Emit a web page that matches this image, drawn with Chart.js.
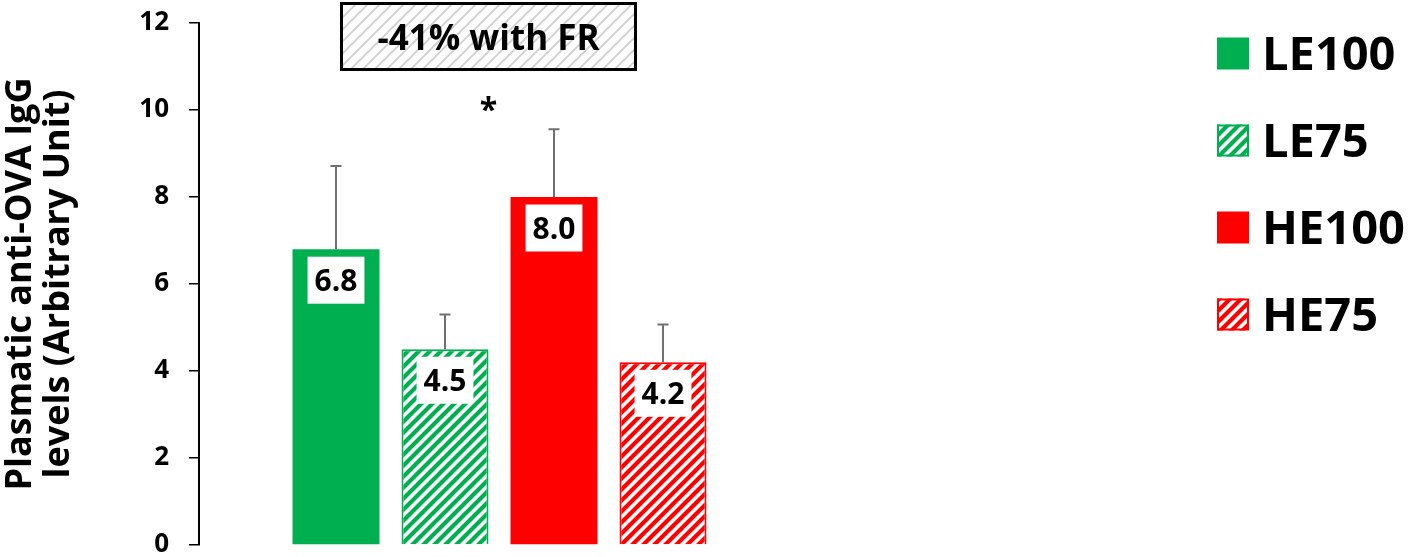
<!DOCTYPE html>
<html>
<head>
<meta charset="utf-8">
<script src="https://cdn.jsdelivr.net/npm/chart.js@4/dist/chart.umd.min.js"></script>
<style>
  html, body { margin: 0; padding: 0; background: #ffffff; }
  canvas { display: block; }
</style>
</head>
<body>
<canvas id="chart" width="1408" height="557"></canvas>
<script>
// Group names, mean IgG levels and upper error (SEM)
const groups = ['LE100', 'LE75', 'HE100', 'HE75'];
const means = [6.8, 4.5, 8.0, 4.2];
const errors = [1.91, 0.80, 1.56, 0.87];
const hatched = [false, true, false, true];
const groupColors = ['#00B050', '#00B050', '#FF0000', '#FF0000'];
const yTicks = [0, 2, 4, 6, 8, 10, 12];
const yTitle = ['Plasmatic anti-OVA IgG', 'levels (Arbitrary Unit)'];
const noteText = '-41% with FR';
const starText = '*';

const FONT = '"Open Sans", "Noto Sans", "DejaVu Sans", sans-serif';

// Diagonal "/" stripe fill
function stripes(color, bg, size, width) {
  const c = document.createElement('canvas');
  c.width = c.height = size;
  const g = c.getContext('2d');
  g.fillStyle = bg;
  g.fillRect(0, 0, size, size);
  g.strokeStyle = color;
  g.lineWidth = width;
  g.beginPath();
  g.moveTo(-2, 2); g.lineTo(2, -2);
  g.moveTo(-2, size + 2); g.lineTo(size + 2, -2);
  g.moveTo(size - 2, size + 2); g.lineTo(size + 2, size - 2);
  g.stroke();
  return g.createPattern(c, 'repeat');
}

const ctx0 = document.getElementById('chart').getContext('2d');
const fills = groups.map((g, i) => hatched[i] ? stripes(groupColors[i], '#ffffff', 11, 4.2) : groupColors[i]);
const noteFill = stripes('#d0d0d0', '#ffffff', 12, 1.8);

// Error bars, value boxes, legend and the annotation
const decor = {
  id: 'decor',
  afterDatasetsDraw(chart) {
    const ctx = chart.ctx;
    const y = chart.scales.y;
    chart.data.datasets.forEach((ds, i) => {
      const bar = chart.getDatasetMeta(i).data[0];
      const top = y.getPixelForValue(means[i]);
      const errTop = y.getPixelForValue(means[i] + errors[i]);
      ctx.save();
      ctx.strokeStyle = '#707070';
      ctx.lineWidth = 2;
      ctx.beginPath();
      ctx.moveTo(bar.x, top);
      ctx.lineTo(bar.x, errTop);
      ctx.moveTo(bar.x - 5.5, errTop);
      ctx.lineTo(bar.x + 5.5, errTop);
      ctx.stroke();

      const txt = means[i].toFixed(1);
      ctx.font = 'bold 30px ' + FONT;
      const w = ctx.measureText(txt).width + 14;
      const h = 47;
      const bt = top + 7.5;
      ctx.fillStyle = '#ffffff';
      ctx.fillRect(bar.x - w / 2, bt, w, h);
      ctx.fillStyle = '#000000';
      ctx.textAlign = 'center';
      ctx.textBaseline = 'alphabetic';
      ctx.fillText(txt, bar.x, bt + h / 2 + 11);
      ctx.restore();
    });
  },
  afterDraw(chart) {
    const ctx = chart.ctx;
    const y = chart.scales.y;
    ctx.save();

    // legend
    const lx = 1217, box = 32, rowGap = 87, firstRow = 53.5;
    chart.data.datasets.forEach((ds, i) => {
      const cy = firstRow + i * rowGap;
      ctx.fillStyle = ds.backgroundColor;
      ctx.fillRect(lx, cy - box / 2, box, box);
      if (hatched[i]) {
        ctx.strokeStyle = ds.borderColor;
        ctx.lineWidth = 2;
        ctx.strokeRect(lx + 1, cy - box / 2 + 1, box - 2, box - 2);
      }
      ctx.fillStyle = '#000000';
      ctx.font = 'bold 47px ' + FONT;
      ctx.textAlign = 'left';
      ctx.textBaseline = 'alphabetic';
      ctx.fillText(ds.label, lx + box + 13, cy + 16.8);
    });

    // annotation box
    const bx = 340, by = 2, bw = 297, bh = 69;
    ctx.fillStyle = noteFill;
    ctx.fillRect(bx, by, bw, bh);
    ctx.strokeStyle = '#000000';
    ctx.lineWidth = 3;
    ctx.strokeRect(bx + 1.5, by + 1.5, bw - 3, bh - 3);
    ctx.fillStyle = '#000000';
    ctx.font = 'bold 35px ' + FONT;
    ctx.textAlign = 'center';
    ctx.textBaseline = 'alphabetic';
    ctx.fillText(noteText, bx + bw / 2, by + 48);

    // significance mark
    ctx.font = 'bold 32px ' + FONT;
    ctx.fillText(starText, bx + bw / 2, y.getPixelForValue(10) + 11);
    ctx.restore();
  }
};

new Chart(ctx0, {
  type: 'bar',
  data: {
    labels: [''],
    datasets: groups.map((g, i) => ({
      label: g,
      data: [means[i]],
      backgroundColor: fills[i],
      borderColor: groupColors[i],
      borderWidth: hatched[i] ? 2 : 0,
      categoryPercentage: 0.7255,
      barPercentage: 0.798
    }))
  },
  options: {
    responsive: false,
    animation: false,
    layout: { padding: { left: 0, right: 608, top: 23, bottom: 12 } },
    plugins: { legend: { display: false }, tooltip: { enabled: false } },
    scales: {
      x: { display: false },
      y: {
        min: 0,
        max: 12,
        afterFit(scale) {
          scale.width = 199;
          scale.paddingTop = 0;
          scale.paddingBottom = 0;
        },
        afterBuildTicks(scale) { scale.ticks = yTicks.map(v => ({ value: v })); },
        ticks: {
          color: '#000000',
          padding: 20,
          font: { family: FONT, weight: 'bold', size: 26 }
        },
        grid: { drawOnChartArea: false, color: '#000000', lineWidth: 1.5, tickLength: 10, tickColor: '#000000' },
        border: { color: '#000000', width: 2 },
        title: {
          display: true,
          text: yTitle,
          color: '#000000',
          font: { family: FONT, weight: 'bold', size: 36, lineHeight: 1.06 },
          padding: { top: 2, bottom: 0 }
        }
      }
    }
  },
  plugins: [decor]
});
</script>
</body>
</html>
